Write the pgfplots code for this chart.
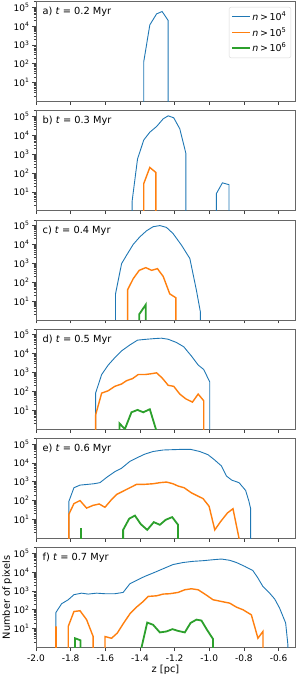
\documentclass[border=0pt]{standalone}
\usepackage{fontspec}
\setmainfont{DejaVu Sans}
\usepackage{pgfplots}
\pgfplotsset{compat=1.18}
\definecolor{cA}{HTML}{1F77B4}
\definecolor{cB}{HTML}{FF7F0E}
\definecolor{cC}{HTML}{2CA02C}
\newcommand{\sq}[1]{10\textsuperscript{#1}}
\tikzset{
  serA/.style={color=cA, line width=0.9pt},
  serB/.style={color=cB, line width=1.4pt},
  serC/.style={color=cC, line width=1.8pt},
}
\pgfplotsset{every axis/.append style={
    width=259pt, height=100pt, scale only axis,
    xmin=-2.0, xmax=-0.505,
    ymin=1, ymax=2e5,
    xtick={-2.0,-1.8,-1.6,-1.4,-1.2,-1.0,-0.8,-0.6},
    ytick={10,100,1000,10000,100000},
    yticklabels={\sq{1},\sq{2},\sq{3},\sq{4},\sq{5}},
    minor ytick={2,3,4,5,6,7,8,9,20,30,40,50,60,70,80,90,200,300,400,500,600,700,800,900,2000,3000,4000,5000,6000,7000,8000,9000,20000,30000,40000,50000,60000,70000,80000,90000,200000},
    tick align=outside, xtick pos=left, ytick pos=left,
    major tick length=3.5pt, minor tick length=2pt,
    tick style={black!75, line width=0.6pt},
    axis line style={black!60, line width=0.7pt},
    ticklabel style={font=\fontsize{9}{10}\selectfont},
    yticklabel style={xshift=0.5pt},
}}
\newcommand{\plab}[1]{\node[anchor=west, font=\fontsize{9.8}{11}\selectfont] at (rel axis cs:0.012,0.895) {#1};}
\begin{document}
\begin{tikzpicture}
\path[use as bounding box] (0,0) rectangle (299pt,-677pt);
% a
\begin{semilogyaxis}[at={(36pt,-101.5pt)}, anchor=south west, xticklabels={},
  legend style={at={(0.985,0.945)}, anchor=north east, draw=black!15, rounded corners=2pt, font=\fontsize{9.5}{10.5}\selectfont, row sep=1.5pt, inner sep=2.5pt},
  legend cell align=left]
\addplot[serA] coordinates {(-1.378,0.01)(-1.378,130)(-1.343,1.15e4)(-1.304,4.4e4)(-1.272,5.9e4)(-1.237,1.95e4)(-1.237,0.01)};
\addlegendentry{\textit{n}\,>\,\sq{4}}
\addlegendimage{serB}
\addlegendentry{\textit{n}\,>\,\sq{5}}
\addlegendimage{serC}
\addlegendentry{\textit{n}\,>\,\sq{6}}
\plab{a) \textit{t} = 0.2 Myr}
\end{semilogyaxis}
% b
\begin{semilogyaxis}[at={(36pt,-210.7pt)}, anchor=south west, xticklabels={}]
\addplot[serA] coordinates {(-1.445,0.01)(-1.445,3.3)(-1.414,550)(-1.378,5600)(-1.343,1.45e4)(-1.304,2.9e4)(-1.266,7.4e4)(-1.237,1.07e5)(-1.205,8.4e4)(-1.170,2.2e4)(-1.135,1100)(-1.135,0.01)};
\addplot[serA] coordinates {(-0.959,0.01)(-0.959,8)(-0.924,30)(-0.886,24)(-0.886,0.01)};
\addplot[serB] coordinates {(-1.378,0.01)(-1.378,27.5)(-1.343,196)(-1.308,106)(-1.308,0.01)};
\plab{b) \textit{t} = 0.3 Myr}
\end{semilogyaxis}
% c
\begin{semilogyaxis}[at={(36pt,-319.9pt)}, anchor=south west, xticklabels={}]
\addplot[serA] coordinates {(-1.541,0.01)(-1.541,24)(-1.506,960)(-1.477,2700)(-1.439,1.0e4)(-1.401,2.5e4)(-1.362,5.3e4)(-1.324,8.7e4)(-1.285,1e5)(-1.247,8e4)(-1.209,3.8e4)(-1.160,9100)(-1.112,1800)(-1.074,37)(-1.051,2.6)(-1.051,0.01)};
\addplot[serB] coordinates {(-1.471,0.01)(-1.471,40)(-1.439,152)(-1.404,425)(-1.366,590)(-1.333,425)(-1.299,520)(-1.266,204)(-1.228,24)(-1.193,15)(-1.193,0.01)};
\addplot[serC] coordinates {(-1.404,0.01)(-1.404,2)(-1.366,6.5)(-1.366,0.01)};
\plab{c) \textit{t} = 0.4 Myr}
\end{semilogyaxis}
% d
\begin{semilogyaxis}[at={(36pt,-429.1pt)}, anchor=south west, xticklabels={}]
\addplot[serA] coordinates {(-1.656,0.01)(-1.656,81)(-1.621,780)(-1.583,2500)(-1.545,6100)(-1.506,1.4e4)(-1.458,2.9e4)(-1.414,5.2e4)(-1.362,5.8e4)(-1.314,6.3e4)(-1.276,6.6e4)(-1.237,5.8e4)(-1.189,3.9e4)(-1.147,2.3e4)(-1.103,7500)(-1.064,2500)(-1.032,1450)(-0.997,316)(-0.997,0.01)};
\addplot[serB] coordinates {(-1.656,0.01)(-1.656,5.6)(-1.621,81)(-1.583,108)(-1.545,185)(-1.506,246)(-1.477,370)(-1.443,475)(-1.410,780)(-1.372,780)(-1.339,850)(-1.304,960)(-1.272,515)(-1.237,210)(-1.205,185)(-1.170,72)(-1.135,40)(-1.097,27)(-1.064,72)(-1.032,32)(-1.032,0.01)};
\addplot[serC] coordinates {(-1.518,0.01)(-1.518,2)(-1.487,1)(-1.449,7.8)(-1.414,10.4)(-1.381,7.8)(-1.343,11.3)(-1.308,1)(-1.308,0.01)};
\plab{d) \textit{t} = 0.5 Myr}
\end{semilogyaxis}
% e
\begin{semilogyaxis}[at={(36pt,-538.3pt)}, anchor=south west, xticklabels={}]
\addplot[serA] coordinates {(-1.810,0.01)(-1.810,92)(-1.781,480)(-1.746,660)(-1.704,720)(-1.666,780)(-1.631,890)(-1.589,1780)(-1.545,3400)(-1.506,5200)(-1.458,1.2e4)(-1.420,1.8e4)(-1.372,2.9e4)(-1.324,4e4)(-1.266,4.8e4)(-1.209,5e4)(-1.155,5.2e4)(-1.108,5.2e4)(-1.055,4e4)(-1.007,2.7e4)(-0.968,1.4e4)(-0.930,6900)(-0.901,2000)(-0.869,1200)(-0.828,890)(-0.790,345)(-0.771,92)(-0.761,37)(-0.761,0.01)};
\addplot[serB] coordinates {(-1.810,0.01)(-1.810,19)(-1.781,69)(-1.746,100)(-1.708,40)(-1.670,56)(-1.635,66)(-1.602,44)(-1.564,113)(-1.535,210)(-1.497,316)(-1.458,480)(-1.420,720)(-1.381,720)(-1.324,780)(-1.285,890)(-1.247,960)(-1.209,780)(-1.180,590)(-1.145,480)(-1.103,257)(-1.064,170)(-1.036,128)(-1.001,50)(-0.968,2.8)(-0.934,7.8)(-0.895,22)(-0.863,37)(-0.828,1)(-0.828,0.01)};
\addplot[serC] coordinates {(-1.742,0.01)(-1.742,3)(-1.740,3)(-1.740,0.01)};
\addplot[serC] coordinates {(-1.497,0.01)(-1.497,2.8)(-1.462,11)(-1.429,16)(-1.395,5.6)(-1.358,2.8)(-1.320,7.2)(-1.285,5.2)(-1.251,9.6)(-1.214,13.3)(-1.180,5.2)(-1.180,0.01)};
\plab{e) \textit{t} = 0.6 Myr}
\end{semilogyaxis}
% f
\begin{semilogyaxis}[at={(36pt,-647.5pt)}, anchor=south west,
  xticklabels={-2.0,-1.8,-1.6,-1.4,-1.2,-1.0,-0.8,-0.6},
  xlabel={z [pc]}, ylabel={Number of pixels},
  label style={font=\fontsize{9.8}{11}\selectfont},
  xlabel style={yshift=3pt}, ylabel style={yshift=-5pt}]
\addplot[serA] coordinates {(-1.885,0.01)(-1.885,72)(-1.852,210)(-1.814,340)(-1.781,630)(-1.737,760)(-1.699,680)(-1.650,760)(-1.602,710)(-1.545,710)(-1.497,830)(-1.458,2400)(-1.420,3600)(-1.372,5900)(-1.324,8900)(-1.266,1.5e4)(-1.209,2.5e4)(-1.151,3.2e4)(-1.093,3.7e4)(-1.036,4e4)(-0.978,4.5e4)(-0.930,4.9e4)(-0.882,4.2e4)(-0.843,3.2e4)(-0.795,2e4)(-0.748,1.2e4)(-0.719,4800)(-0.690,1700)(-0.655,830)(-0.622,370)(-0.594,123)(-0.559,20)(-0.546,1.4)(-0.546,0.01)};
\addplot[serB] coordinates {(-1.885,0.01)(-1.885,13)(-1.885,0.01)};
\addplot[serB] coordinates {(-1.814,0.01)(-1.814,13)(-1.781,81)(-1.746,89)(-1.708,30)(-1.670,3.8)(-1.670,0.01)};
\addplot[serB] coordinates {(-1.602,0.01)(-1.602,3.8)(-1.564,3.1)(-1.531,5.8)(-1.497,18)(-1.458,61)(-1.420,138)(-1.381,276)(-1.353,510)(-1.304,550)(-1.266,680)(-1.228,710)(-1.180,830)(-1.141,1150)(-1.103,1300)(-1.064,1150)(-1.020,630)(-0.978,340)(-0.930,276)(-0.882,225)(-0.843,138)(-0.805,100)(-0.757,54)(-0.738,13)(-0.719,3.1)(-0.690,7.1)(-0.690,0.01)};
\addplot[serC] coordinates {(-1.775,0.01)(-1.775,3.1)(-1.743,2.4)(-1.743,0.01)};
\addplot[serC] coordinates {(-1.391,0.01)(-1.391,1)(-1.358,21)(-1.324,16)(-1.285,6.3)(-1.247,7.1)(-1.212,9.4)(-1.180,7.6)(-1.141,6.3)(-1.108,20)(-1.074,30)(-1.045,27)(-1.013,8.7)(-0.978,2.8)(-0.978,0.01)};
\plab{f) \textit{t} = 0.7 Myr}
\end{semilogyaxis}
\end{tikzpicture}
\end{document}
